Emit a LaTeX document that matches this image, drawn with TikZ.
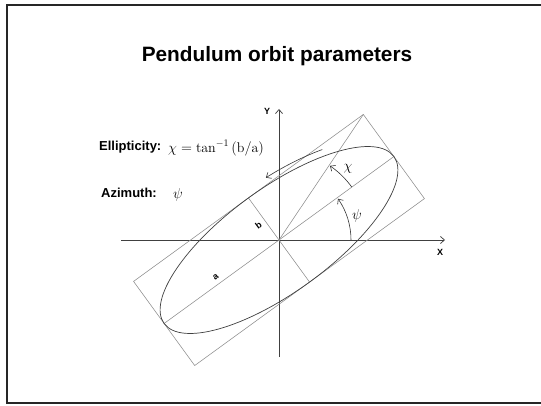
\documentclass[tikz,border=0pt]{standalone}
\usepackage{fontspec}
\setsansfont{Liberation Sans}
\usetikzlibrary{arrows.meta}
\begin{document}
\begin{tikzpicture}[x=1pt,y=1pt,
  frameline/.style={line width=1.2pt, black!85},
  guide/.style={line width=0.55pt, black!45},
  orbit/.style={line width=0.7pt, black!75},
  axisline/.style={line width=0.75pt, black!75, -{Straight Barb[length=4pt,width=7pt]}},
  anglearrow/.style={line width=0.6pt, black!80, -{Straight Barb[length=4pt,width=7pt]}},
  lbl/.style={font=\sffamily\bfseries\fontsize{13}{15}\selectfont, inner sep=0pt, anchor=west},
  small/.style={font=\sffamily\bfseries\fontsize{9}{10}\selectfont, inner sep=0pt},
  mathlbl/.style={font=\fontsize{14}{16}\selectfont, inner sep=0pt}]
\useasboundingbox (0,0) rectangle (541,405);
\draw[frameline] (541,400) -- (7,400) -- (7,2) -- (541,2);
\node[font=\sffamily\bfseries\fontsize{20.8}{24}\selectfont, inner sep=0pt] (title) at (277,349) {Pendulum orbit parameters};
\node[lbl] (ell) at (99,258) {Ellipticity:};
\node[mathlbl, anchor=west] (ellm) at (168,257) {$\chi = \tan^{-1}\mathrm{(b/a)}$};
\node[lbl] (azi) at (101,212) {Azimuth:};
\node[mathlbl, anchor=west] (azim) at (173,210) {$\psi$};
\coordinate (O) at (279,165);
\begin{scope}[shift={(O)}]
  % axes
  \coordinate (xl) at (-158,0);
  \coordinate (xr) at (166,0);
  \coordinate (yb) at (0,-117);
  \coordinate (yt) at (0,131);
  \draw[axisline] (xl) -- (xr);
  \draw[axisline] (yb) -- (yt);
  \node[small] (X) at (161,-12) {X};
  \node[small] (Y) at (-12,129) {Y};
  \begin{scope}[rotate=36]
    \coordinate (c) at (0,0);
    \coordinate (ra) at (142,0);
    \coordinate (la) at (-142,0);
    \coordinate (tb) at (0,52);
    \coordinate (bb) at (0,-52);
    \coordinate (tc) at (142,52);
    \draw[guide] (-142,-52) rectangle (142,52);
    \draw[guide] (la) -- (ra);
    \draw[guide] (bb) -- (tb);
    \draw[guide] (c) -- (tc);
    \draw[orbit] (c) ellipse [x radius=142, y radius=52];
    \draw[anglearrow] (54:150 and 59) arc[start angle=54, end angle=80, x radius=150, y radius=59];
    \node[small, rotate=36] (a) at (-73,7) {a};
    \node[small, rotate=36] (b) at (-8,24) {b};
  \end{scope}
  \draw[anglearrow] (72,0) arc[start angle=0, end angle=35, radius=72];
  \draw[anglearrow] (36:90) arc[start angle=36, end angle=55.5, radius=90];
  \node[mathlbl] (psi) at (78,24) {$\psi$};
  \node[mathlbl] (chi) at (69,71) {$\chi$};
\end{scope}
\end{tikzpicture}
\end{document}
